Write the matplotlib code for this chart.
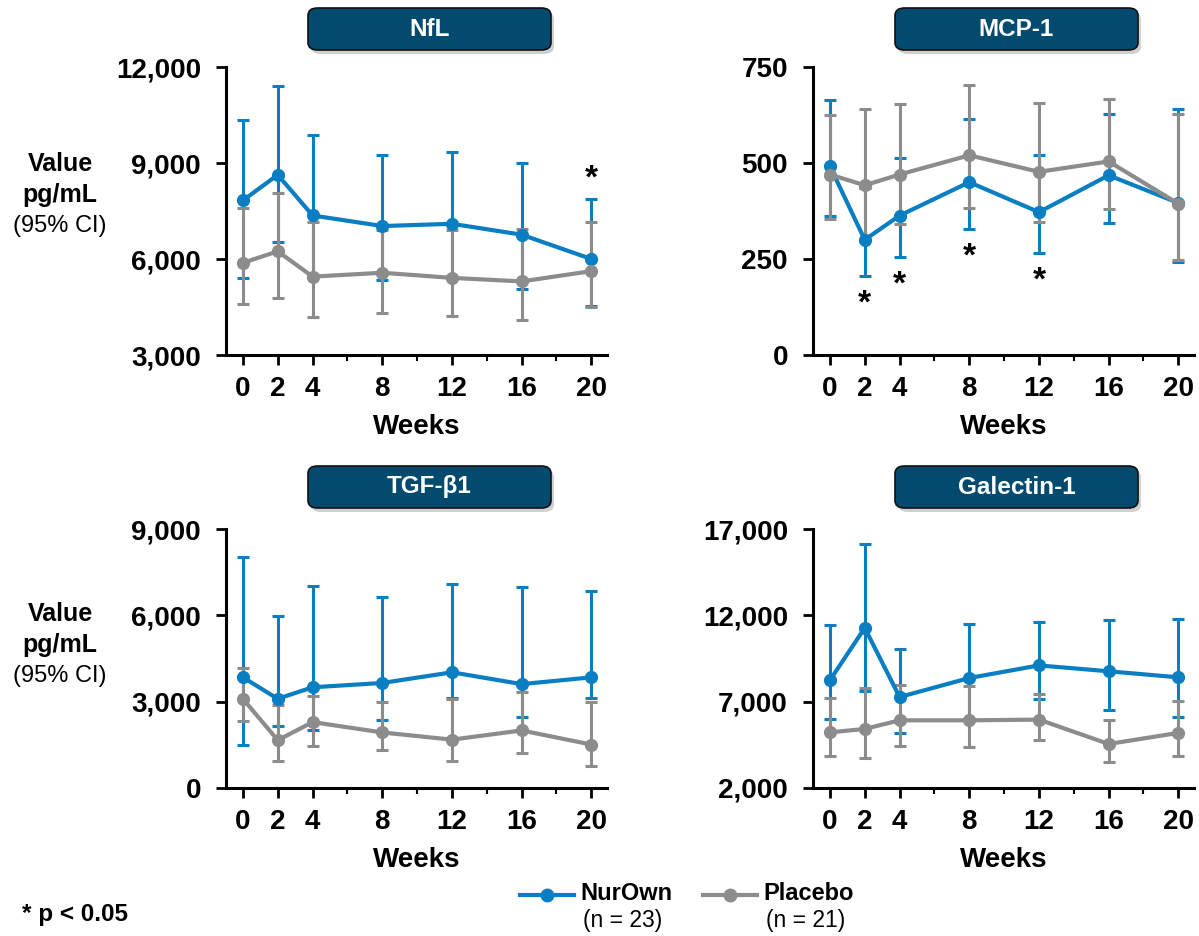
import matplotlib
matplotlib.use("Agg")
import matplotlib.pyplot as plt
from matplotlib.patches import FancyBboxPatch
from matplotlib.lines import Line2D
from matplotlib.ticker import FuncFormatter, FixedLocator

plt.rcParams['font.family'] = ['Liberation Sans', 'DejaVu Sans']

weeks = [0, 2, 4, 8, 12, 16, 20]
minor_weeks = [6, 10, 14, 18]

# NfL (pg/mL), mean with 95% CI
nfl_nurown = [7830, 8630, 7360, 7030, 7100, 6760, 6000]
nfl_nurown_lo = [5400, 6530, 5500, 5350, 5400, 5060, 4540]
nfl_nurown_hi = [10330, 11410, 9860, 9240, 9340, 9000, 7880]
nfl_placebo = [5880, 6240, 5450, 5570, 5410, 5300, 5620]
nfl_placebo_lo = [4600, 4780, 4180, 4320, 4230, 4080, 4490]
nfl_placebo_hi = [7600, 8070, 7170, 6900, 6900, 6930, 7150]
nfl_sig = [20]

# MCP-1 (pg/mL)
mcp_nurown = [492, 300, 363, 450, 372, 468, 396]
mcp_nurown_lo = [361, 206, 256, 328, 265, 344, 242]
mcp_nurown_hi = [665, 435, 514, 614, 520, 628, 641]
mcp_placebo = [470, 442, 470, 520, 477, 504, 394]
mcp_placebo_lo = [355, 300, 340, 383, 346, 379, 248]
mcp_placebo_hi = [626, 641, 653, 704, 656, 667, 627]
mcp_sig = [2, 4, 8, 12]

# TGF-beta1 (pg/mL)
tgf_nurown = [3845, 3100, 3500, 3650, 4020, 3610, 3845]
tgf_nurown_lo = [1510, 2140, 2030, 2350, 3130, 2460, 3130]
tgf_nurown_hi = [8010, 5960, 7030, 6640, 7100, 6980, 6830]
tgf_placebo = [3100, 1660, 2290, 1930, 1680, 2000, 1510]
tgf_placebo_lo = [2340, 930, 1470, 1310, 930, 1220, 750]
tgf_placebo_hi = [4170, 2870, 3200, 2980, 3100, 3340, 2980]
tgf_sig = []

# Galectin-1 (pg/mL)
gal_nurown = [8240, 11270, 7270, 8370, 9100, 8760, 8410]
gal_nurown_lo = [6000, 7600, 5190, 6000, 7170, 6500, 6090]
gal_nurown_hi = [11460, 16150, 10070, 11520, 11610, 11710, 11790]
gal_placebo = [5220, 5420, 5920, 5920, 5960, 4550, 5190]
gal_placebo_lo = [3830, 3740, 4450, 4360, 4760, 3490, 3830]
gal_placebo_hi = [7210, 7790, 7990, 7900, 7440, 5920, 7060]
gal_sig = []

BLUE = '#0a7ec2'
GRAY = '#8c8c8c'
BOX = '#024a6e'

W, H = 1199, 936
fig = plt.figure(figsize=(W / 100, H / 100), dpi=100)


def fx(px):
    return px / W


def fy(py):
    return 1 - py / H


def comma(v, pos):
    return f'{int(round(v)):,}'


def panel(rect, title, box_y, nur, nur_lo, nur_hi, pla, pla_lo, pla_hi,
          ylim, yticks, sig, sig_side):
    ax = fig.add_axes(rect)
    for vals, lo, hi, color, z in ((nur, nur_lo, nur_hi, BLUE, 2),
                                   (pla, pla_lo, pla_hi, GRAY, 3)):
        err = [[v - l for v, l in zip(vals, lo)], [h - v for v, h in zip(vals, hi)]]
        ax.errorbar(weeks, vals, yerr=err, fmt='none', ecolor=color,
                    elinewidth=2.2, capsize=4, capthick=2.2, zorder=z)
    ax.plot(weeks, nur, color=BLUE, lw=3, marker='o', ms=8.5, zorder=4,
            clip_on=False)
    ax.plot(weeks, pla, color=GRAY, lw=3, marker='o', ms=8.5, zorder=5,
            clip_on=False)
    for w in sig:
        i = weeks.index(w)
        if sig_side == 'above':
            ax.annotate('*', (w, nur_hi[i]), xytext=(0, 3), textcoords='offset points',
                        ha='center', va='bottom', fontsize=24, fontweight='bold')
        else:
            ax.annotate('*', (w, nur_lo[i]), xytext=(0, -9), textcoords='offset points',
                        ha='center', va='top', fontsize=24, fontweight='bold')
    ax.set_xlim(-0.97, 20.9)
    ax.set_ylim(*ylim)
    ax.set_yticks(yticks)
    ax.yaxis.set_major_formatter(FuncFormatter(comma))
    ax.set_xticks(weeks)
    ax.xaxis.set_minor_locator(FixedLocator(minor_weeks))
    for s in ('top', 'right'):
        ax.spines[s].set_visible(False)
    for s in ('left', 'bottom'):
        ax.spines[s].set_linewidth(2.2)
        ax.spines[s].set_color('black')
    ax.tick_params(axis='both', which='major', direction='out', length=7,
                   width=2, labelsize=20)
    ax.tick_params(axis='x', which='major', pad=8)
    ax.tick_params(axis='y', which='major', pad=11)
    ax.tick_params(axis='x', which='minor', direction='out', length=4, width=1.5)
    for lab in ax.get_xticklabels() + ax.get_yticklabels():
        lab.set_fontweight('bold')
    ax.set_xlabel('Weeks', fontsize=20, fontweight='bold', labelpad=9)

    # title badge
    x0 = rect[0] + fx(82)
    bw, bh = fx(243), 42 / H
    shadow = FancyBboxPatch((x0 + fx(3), box_y - bh - 4 / H), bw, bh,
                            boxstyle='round,pad=0,rounding_size=0.008',
                            transform=fig.transFigure, facecolor='black',
                            edgecolor='none', alpha=0.18, zorder=1)
    fig.add_artist(shadow)
    box = FancyBboxPatch((x0, box_y - bh), bw, bh,
                         boxstyle='round,pad=0,rounding_size=0.008',
                         transform=fig.transFigure, facecolor=BOX,
                         edgecolor='#111111', linewidth=1.2, zorder=2)
    fig.add_artist(box)
    fig.text(x0 + bw / 2, box_y - bh / 2, title, color='white', fontsize=17.5,
             fontweight='bold', ha='center', va='center', zorder=3)
    return ax


top_b, top_h = fy(355), 288 / H
bot_b, bot_h = fy(788), 259 / H
left_l, right_l, pw = fx(226), fx(813), fx(381)

panel([left_l, top_b, pw, top_h], 'NfL', fy(8), nfl_nurown, nfl_nurown_lo,
      nfl_nurown_hi, nfl_placebo, nfl_placebo_lo, nfl_placebo_hi,
      (3000, 12000), [3000, 6000, 9000, 12000], nfl_sig, 'above')
panel([right_l, top_b, pw, top_h], 'MCP-1', fy(8), mcp_nurown, mcp_nurown_lo,
      mcp_nurown_hi, mcp_placebo, mcp_placebo_lo, mcp_placebo_hi,
      (0, 750), [0, 250, 500, 750], mcp_sig, 'below')
panel([left_l, bot_b, pw, bot_h], 'TGF-β1', fy(466), tgf_nurown, tgf_nurown_lo,
      tgf_nurown_hi, tgf_placebo, tgf_placebo_lo, tgf_placebo_hi,
      (0, 9000), [0, 3000, 6000, 9000], tgf_sig, 'above')
panel([right_l, bot_b, pw, bot_h], 'Galectin-1', fy(466), gal_nurown, gal_nurown_lo,
      gal_nurown_hi, gal_placebo, gal_placebo_lo, gal_placebo_hi,
      (2000, 17000), [2000, 7000, 12000, 17000], gal_sig, 'above')

# y-axis captions
for yc in (195, 645):
    fig.text(fx(60), fy(yc - 31), 'Value', fontsize=18, fontweight='bold',
             ha='center', va='center')
    fig.text(fx(60), fy(yc), 'pg/mL', fontsize=18, fontweight='bold',
             ha='center', va='center')
    fig.text(fx(60), fy(yc + 31), '(95% CI)', fontsize=17, ha='center', va='center')

# legend
for (x_a, x_b, color, name, n) in ((520, 574, BLUE, 'NurOwn', '(n = 23)'),
                                   (703, 757, GRAY, 'Placebo', '(n = 21)')):
    fig.add_artist(Line2D([fx(x_a), fx(x_b)], [fy(895), fy(895)], color=color,
                          lw=3, transform=fig.transFigure))
    fig.add_artist(Line2D([fx((x_a + x_b) / 2)], [fy(895)], color=color,
                          marker='o', ms=9, transform=fig.transFigure))
    fig.text(fx(x_b + 6), fy(893), name, fontsize=17, fontweight='bold',
             ha='left', va='center')
    fig.text(fx(x_b + 9), fy(921), n, fontsize=16.5, ha='left', va='center')

fig.text(fx(22), fy(915), '* p < 0.05', fontsize=17.5, fontweight='bold',
         ha='left', va='center')

fig.savefig('out.png', dpi=100, facecolor='white')
